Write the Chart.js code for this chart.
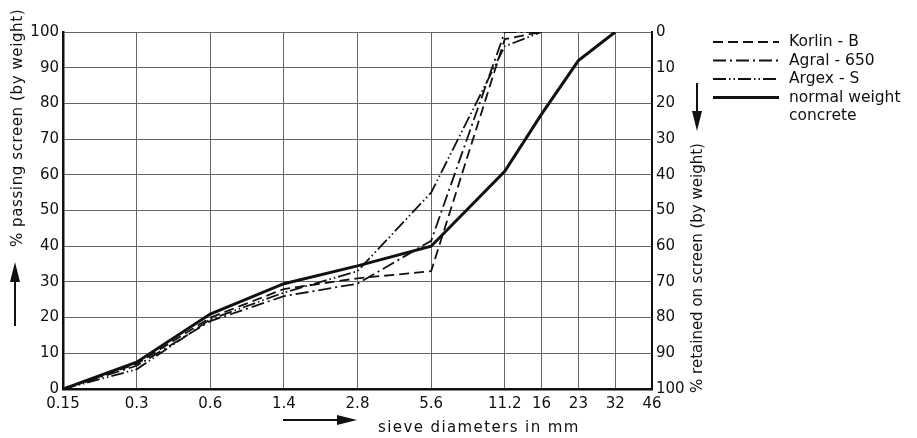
<!DOCTYPE html>
<html>
<head>
<meta charset="utf-8">
<script src="https://cdn.jsdelivr.net/npm/chart.js@4.4.1/dist/chart.umd.min.js"></script>
<style>
  html, body { margin: 0; padding: 0; background: #fff; }
  #wrap { position: relative; width: 917px; height: 438px; }
</style>
</head>
<body>
<div id="wrap"><canvas id="sieveChart"></canvas></div>
<script>
// sieve sizes (mm) along the bottom axis
const sieves = ['0.15', '0.3', '0.6', '1.4', '2.8', '5.6', '11.2', '16', '23', '32', '46'];
// % passing screen at each sieve, starting from 0.15
const korlinB        = [0, 7, 20, 28, 31, 33, 98, 100];
const agral650       = [0, 6.5, 19, 26, 29.5, 41.5, 100, 100];
const argexS         = [0, 5.5, 19.5, 27, 33, 55, 96, 100];
const normalConcrete = [0, 7.5, 21, 29.5, 34.5, 40, 61, 77, 92, 100];
const percentTicks   = [0, 10, 20, 30, 40, 50, 60, 70, 80, 90, 100];

const FONT = "'DejaVu Sans'";
const INK = '#111';

// the coarse sieves above 11.2 sit at half spacing
const sievePos = i => (i <= 6 ? i : 6 + (i - 6) / 2);
const toPoints = arr => arr.map((v, i) => ({ x: sievePos(i), y: v }));

const series = [
  { label: 'Korlin - B', data: korlinB, dash: [10, 5], width: 1.8 },
  { label: 'Agral - 650', data: agral650, dash: [13, 4, 2, 4], width: 1.8 },
  { label: 'Argex - S', data: argexS, dash: [13, 3, 1.5, 3, 1.5, 3], width: 1.8 },
  { label: 'normal weight\nconcrete', data: normalConcrete, dash: [], width: 3 }
];

function arrow(ctx, x1, y1, x2, y2) {
  const ang = Math.atan2(y2 - y1, x2 - x1), len = 20, half = 5;
  const bx = x2 - Math.cos(ang) * len, by = y2 - Math.sin(ang) * len;
  ctx.save();
  ctx.strokeStyle = INK; ctx.fillStyle = INK; ctx.lineWidth = 2;
  ctx.beginPath(); ctx.moveTo(x1, y1); ctx.lineTo(bx, by); ctx.stroke();
  ctx.beginPath();
  ctx.moveTo(x2, y2);
  ctx.lineTo(bx - Math.sin(ang) * half, by + Math.cos(ang) * half);
  ctx.lineTo(bx + Math.sin(ang) * half, by - Math.cos(ang) * half);
  ctx.closePath(); ctx.fill();
  ctx.restore();
}

const decorations = {
  id: 'decorations',
  afterDraw(chart) {
    const ctx = chart.ctx;
    ctx.save();
    ctx.fillStyle = INK;
    ctx.font = '15px ' + FONT;
    ctx.textBaseline = 'middle';

    // left axis title + arrow
    ctx.save();
    ctx.translate(18, 128);
    ctx.rotate(-Math.PI / 2);
    ctx.textAlign = 'center';
    ctx.letterSpacing = '0.6px';
    ctx.fillText('% passing screen (by weight)', 0, 0);
    ctx.restore();
    arrow(ctx, 15, 326, 15, 262);

    // right axis title + arrow
    ctx.save();
    ctx.translate(698, 268);
    ctx.rotate(-Math.PI / 2);
    ctx.textAlign = 'center';
    ctx.fillText('% retained on screen (by weight)', 0, 0);
    ctx.restore();
    arrow(ctx, 697, 83, 697, 131);

    // bottom title + arrow
    ctx.save();
    ctx.letterSpacing = '1.4px';
    ctx.fillText('sieve diameters in mm', 378, 428);
    ctx.restore();
    arrow(ctx, 283, 420, 357, 420);

    // legend
    ctx.font = '15.5px ' + FONT;
    let y = 42;
    chart.data.datasets.forEach(ds => {
      ctx.save();
      ctx.strokeStyle = INK;
      ctx.lineWidth = ds.borderWidth;
      ctx.setLineDash(ds.borderDash || []);
      ctx.beginPath(); ctx.moveTo(713, y); ctx.lineTo(779, y); ctx.stroke();
      ctx.restore();
      ds.label.split('\n').forEach(line => {
        ctx.fillText(line, 789, y);
        y += 18.5;
      });
    });
    ctx.restore();
  }
};

new Chart(document.getElementById('sieveChart'), {
  type: 'line',
  data: {
    datasets: series.map(s => ({
      label: s.label,
      data: toPoints(s.data),
      borderColor: INK,
      borderWidth: s.width,
      borderDash: s.dash,
      pointRadius: 0,
      tension: 0,
      fill: false,
      yAxisID: 'y'
    }))
  },
  options: {
    responsive: true, maintainAspectRatio: false, animation: false,
    layout: { padding: { top: 32, left: 0, right: 0, bottom: 0 } },
    plugins: { legend: { display: false }, tooltip: { enabled: false } },
    scales: {
      x: {
        type: 'linear', min: 0, max: 8,
        afterBuildTicks: s => { s.ticks = sieves.map((_, i) => ({ value: sievePos(i) })); },
        afterFit: s => { s.height = 49; },
        ticks: {
          autoSkip: false, maxRotation: 0, padding: 6, color: INK,
          font: { family: FONT, size: 15 },
          callback: (v, i) => sieves[i]
        },
        grid: { color: '#666', lineWidth: 1, drawTicks: false },
        border: { color: INK, width: 2.5 }
      },
      y: {
        position: 'left', min: 0, max: 100,
        afterBuildTicks: s => { s.ticks = percentTicks.map(v => ({ value: v })); },
        afterFit: s => { s.width = 63; },
        ticks: { padding: 4, color: INK, font: { family: FONT, size: 15 } },
        grid: { color: '#666', lineWidth: 1, drawTicks: false },
        border: { color: INK, width: 2.5 }
      },
      y2: {
        position: 'right', min: 0, max: 100, reverse: true,
        afterBuildTicks: s => { s.ticks = percentTicks.map(v => ({ value: v })); },
        afterFit: s => { s.width = 265; },
        ticks: { padding: 4, color: INK, font: { family: FONT, size: 15 } },
        grid: { drawOnChartArea: false, drawTicks: false },
        border: { color: INK, width: 2 }
      }
    }
  },
  plugins: [decorations]
});
</script>
</body>
</html>
